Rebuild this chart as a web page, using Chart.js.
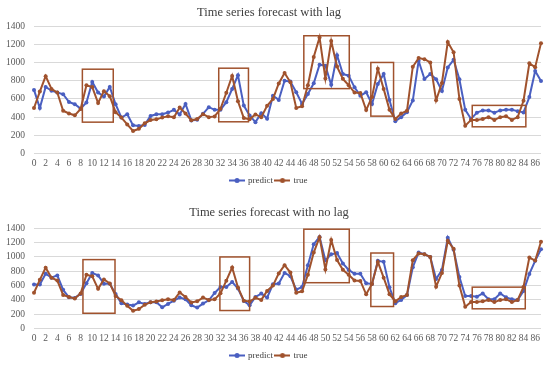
<!DOCTYPE html>
<html>
<head>
<meta charset="utf-8">
<script src="https://cdn.jsdelivr.net/npm/chart.js@4/dist/chart.umd.min.js"></script>
<style>
html, body { margin: 0; padding: 0; background: #fff; overflow: hidden; width: 550px; height: 367px; }
#wrapTop { position: absolute; left: 0; top: 0; width: 550px; height: 195px; }
#wrapBottom { position: absolute; left: 0; top: 192px; width: 550px; height: 178px; }
</style>
</head>
<body>
<div id="wrapTop"><canvas id="lagChart"></canvas></div>
<div id="wrapBottom"><canvas id="noLagChart"></canvas></div>
<script>
const xLabels = [0,1,2,3,4,5,6,7,8,9,10,11,12,13,14,15,16,17,18,19,20,21,22,23,24,25,26,27,28,29,
    30,31,32,33,34,35,36,37,38,39,40,41,42,43,44,45,46,47,48,49,50,51,52,53,54,55,56,57,58,59,
    60,61,62,63,64,65,66,67,68,69,70,71,72,73,74,75,76,77,78,79,80,81,82,83,84,85,86,87];

const yTicks = [0, 200, 400, 600, 800, 1000, 1200, 1400];

const trueVals = [500,680,850,710,670,470,440,420,490,750,730,555,685,630,455,395,320,248,272,332,
    368,378,395,410,398,505,440,365,380,432,400,408,492,668,852,574,390,378,430,400,
    525,600,770,885,782,500,520,750,1060,1275,825,1236,955,820,750,670,665,478,622,930,
    710,480,380,440,470,953,1048,1036,1000,585,775,1225,1112,600,305,370,370,380,400,370,
    400,410,370,400,580,990,948,1212];

const predictLag = [699,500,732,690,670,651,567,542,493,560,786,670,626,732,542,395,432,310,302,315,
    413,432,432,450,480,430,545,364,371,436,509,480,480,564,709,860,527,418,345,444,
    382,636,589,800,790,673,545,655,771,976,965,755,1080,873,855,727,636,673,545,764,
    873,589,356,400,455,582,1018,818,873,816,687,945,1029,816,480,380,449,474,474,449,
    474,482,482,466,452,620,907,797];

const predictNoLag = [614,614,765,710,742,540,437,428,484,633,774,742,624,624,484,353,335,321,367,344,
    367,367,297,344,390,432,410,325,293,349,395,497,581,581,651,558,386,325,441,488,
    432,618,628,777,730,544,581,884,1177,1279,953,1036,1054,909,818,764,764,633,623,945,
    931,577,355,400,467,856,1060,1036,1000,690,818,1268,1100,720,455,455,445,490,410,410,
    490,436,410,400,525,762,945,1105];

// highlighted regions: [fromIndex, toIndex, lowValue, highValue]
const lagBoxes = [[8.3, 13.6, 345, 926], [31.7, 36.8, 349, 937], [46.3, 54.1, 713, 1293],
    [57.8, 61.7, 411, 1000], [75.2, 84.4, 294, 529]];
const noLagBoxes = [[8.4, 13.9, 214, 962], [31.9, 37.0, 252, 999], [46.3, 54.1, 640, 1386],
    [57.8, 61.7, 308, 1054], [75.2, 84.3, 276, 578]];

const blue = '#4a5fc1';
const brown = '#a0522d';
const serif = "'Liberation Serif', 'DejaVu Serif', serif";

let makeMarker = (color) => {
    let c = document.createElement('canvas');
    c.width = 16;
    c.height = 7;
    let ctx = c.getContext('2d');
    ctx.strokeStyle = color;
    ctx.lineWidth = 2;
    ctx.beginPath();
    ctx.moveTo(0, 3.5);
    ctx.lineTo(16, 3.5);
    ctx.stroke();
    ctx.fillStyle = color;
    ctx.beginPath();
    ctx.arc(8, 3.5, 2.5, 0, Math.PI * 2);
    ctx.fill();
    return c;
};
const markers = [makeMarker(blue), makeMarker(brown)];

const boxPlugin = {
    id: 'boxes',
    afterDatasetsDraw(chart, args, opts) {
        let x = chart.scales.x, y = chart.scales.y, ctx = chart.ctx;
        ctx.save();
        ctx.strokeStyle = opts.color;
        ctx.lineWidth = opts.width;
        opts.list.forEach(b => {
            let left = x.getPixelForValue(b[0]);
            let right = x.getPixelForValue(b[1]);
            let top = y.getPixelForValue(b[3]);
            let bottom = y.getPixelForValue(b[2]);
            ctx.strokeRect(left, top, right - left, bottom - top);
        });
        ctx.restore();
    }
};

let createChart = (id, title, titlePad, predict, boxes) => {
    let ctx = document.querySelector(id).getContext('2d');
    return new Chart(ctx, {
        type: 'line',
        data: {
            labels: xLabels,
            datasets: [
                { label: 'predict', data: predict, borderColor: blue, backgroundColor: blue,
                  borderWidth: 2, pointRadius: 2, pointBorderWidth: 0, tension: 0, order: 1 },
                { label: 'true', data: trueVals, borderColor: brown, backgroundColor: brown,
                  borderWidth: 2, pointRadius: 2, pointBorderWidth: 0, tension: 0, order: 0 }
            ]
        },
        options: {
            responsive: true,
            maintainAspectRatio: false,
            animation: false,
            devicePixelRatio: 1,
            layout: { padding: { left: -3, right: 9, top: 0, bottom: 0 } },
            scales: {
                x: {
                    grid: { display: false, drawTicks: false },
                    border: { display: false },
                    ticks: {
                        autoSkip: false, maxRotation: 0, padding: 4,
                        color: '#595959', font: { family: serif, size: 9.5 },
                        callback: (v, i) => i % 2 === 0 ? String(xLabels[i]) : ''
                    }
                },
                y: {
                    min: yTicks[0],
                    max: yTicks[yTicks.length - 1],
                    afterBuildTicks: (axis) => { axis.ticks = yTicks.map(v => ({ value: v })); },
                    grid: { color: '#d9d9d9', drawTicks: false },
                    border: { display: false },
                    ticks: {
                        autoSkip: false, padding: 9, color: '#595959', font: { family: serif, size: 9.5 },
                        callback: (v) => String(v)
                    }
                }
            },
            plugins: {
                title: {
                    display: true, text: title, color: '#404040',
                    font: { family: serif, size: 12.5, weight: 'normal' },
                    padding: titlePad
                },
                legend: {
                    position: 'bottom',
                    labels: {
                        usePointStyle: true, pointStyleWidth: 13, padding: 3,
                        color: '#404040', font: { family: serif, size: 9 },
                        sort: (a, b) => a.datasetIndex - b.datasetIndex,
                        generateLabels: (chart) => {
                            let items = Chart.defaults.plugins.legend.labels.generateLabels(chart);
                            items.forEach(it => { it.pointStyle = markers[it.datasetIndex]; });
                            return items;
                        }
                    }
                },
                tooltip: { enabled: false },
                boxes: { list: boxes, color: brown, width: 1.5 }
            }
        },
        plugins: [boxPlugin]
    });
};

createChart('#lagChart', 'Time series forecast with lag', { top: 5, bottom: 6 }, predictLag, lagBoxes);
createChart('#noLagChart', 'Time series forecast with no lag', { top: 13.6, bottom: 7.6 }, predictNoLag, noLagBoxes);
</script>
</body>
</html>
